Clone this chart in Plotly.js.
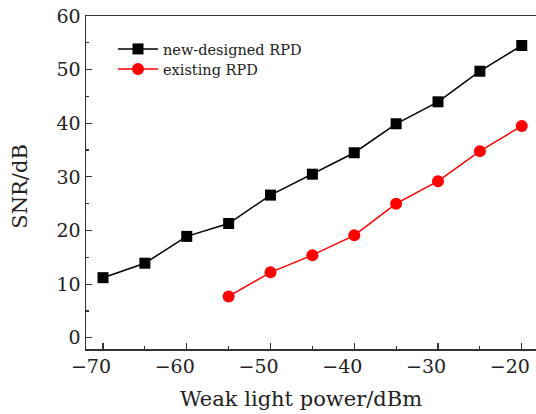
<!DOCTYPE html>
<html>
<head>
<meta charset="utf-8">
<script src="https://cdn.plot.ly/plotly-3.0.1.min.js"></script>
<style>html,body{margin:0;padding:0;background:#fff;}#chart{width:536px;height:414px;}</style>
</head>
<body>
<div id="chart"></div>
<script>
const powerNew = [-70, -65, -60, -55, -50, -45, -40, -35, -30, -25, -20];
const snrNew = [11.2, 13.9, 18.9, 21.3, 26.6, 30.5, 34.5, 39.9, 44.0, 49.7, 54.5];
const powerOld = [-55, -50, -45, -40, -35, -30, -25, -20];
const snrOld = [7.7, 12.2, 15.4, 19.1, 25.0, 29.2, 34.8, 39.5];
const nameNew = 'new-designed RPD';
const nameOld = 'existing RPD';
const xTitle = 'Weak light power/dBm';
const yTitle = 'SNR/dB';
const xTickVals = [-70, -60, -50, -40, -30, -20];
const xTickText = ['\u221270', '\u221260', '\u221250', '\u221240', '\u221230', '\u221220'];
const yTickVals = [0, 10, 20, 30, 40, 50, 60];

const font = 'DejaVu Serif, serif';
const txt = '#222';

const traces = [
  {x: powerNew, y: snrNew, name: nameNew, mode: 'lines+markers', type: 'scatter', legend: 'legend',
   line: {color: '#000', width: 1.5}, marker: {symbol: 'square', size: 11, color: '#000'}},
  {x: powerOld, y: snrOld, name: nameOld, mode: 'lines+markers', type: 'scatter', legend: 'legend2',
   line: {color: '#ff0000', width: 1.5}, marker: {symbol: 'circle', size: 12, color: '#ff0000'}}
];

const minorStyle = {ticks: 'inside', ticklen: 3, tickwidth: 1.2, tickcolor: '#333'};
const axisCommon = {
  showgrid: false, zeroline: false, showline: true, mirror: true,
  linecolor: '#333', linewidth: 1.5,
  ticks: 'inside', ticklen: 6, tickwidth: 1.2, tickcolor: '#333',
  tickfont: {family: font, size: 19, color: txt}
};
const legendCommon = {xanchor: 'left', yanchor: 'middle', bgcolor: 'rgba(0,0,0,0)',
  font: {family: font, size: 14.5, color: txt}, itemwidth: 40};

const layout = {
  width: 536, height: 414,
  margin: {l: 86, r: 0, t: 16, b: 65},
  paper_bgcolor: '#fff', plot_bgcolor: '#fff',
  font: {family: font, color: txt},
  showlegend: true,
  legend: Object.assign({x: 0.06, y: 1 - (49 - 16) / 333}, legendCommon),
  legend2: Object.assign({x: 0.06, y: 1 - (69 - 16) / 333}, legendCommon),
  xaxis: Object.assign({}, axisCommon, {
    range: [-72.03, -18.3], tickmode: 'array', tickvals: xTickVals, ticktext: xTickText,
    ticklabelshift: -12, ticklabeloverflow: 'allow',
    minor: Object.assign({tickvals: [-65, -55, -45, -35, -25]}, minorStyle)
  }),
  yaxis: Object.assign({}, axisCommon, {
    range: [-2.1, 60], tickmode: 'array', tickvals: yTickVals,
    minor: Object.assign({tickvals: [5, 15, 25, 35, 45, 55]}, minorStyle)
  }),
  annotations: [
    {text: xTitle, xref: 'paper', yref: 'paper', x: (301 - 86) / 450, y: 1 - (399 - 16) / 333,
     xanchor: 'center', yanchor: 'middle', showarrow: false, font: {family: font, size: 21, color: txt}},
    {text: yTitle, xref: 'paper', yref: 'paper', x: (20 - 86) / 450, y: 1 - (186.7 - 16) / 333,
     xanchor: 'center', yanchor: 'middle', textangle: -90, showarrow: false, font: {family: font, size: 21, color: txt}}
  ]
};

Plotly.newPlot('chart', traces, layout, {displayModeBar: false, staticPlot: true});
</script>
</body>
</html>
